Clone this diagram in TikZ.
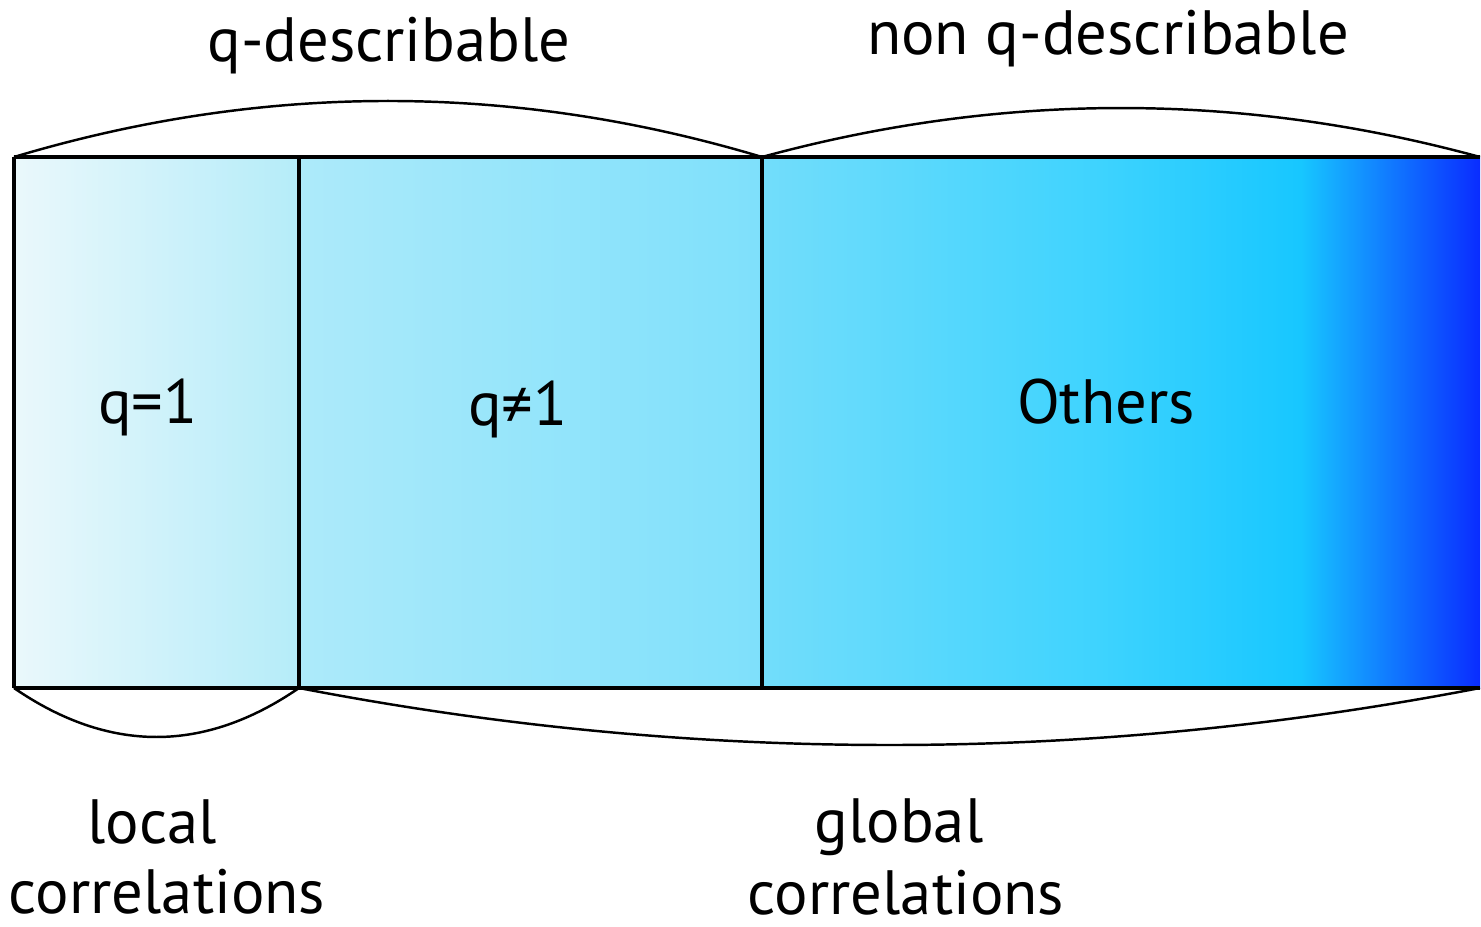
\documentclass[tikz,border=0pt]{standalone}
\usepackage{fontspec}
\setmainfont{PT Sans}
\usetikzlibrary{calc}
\definecolor{cA0}{HTML}{EAF8FB}
\definecolor{cA1}{HTML}{B5ECF9}
\definecolor{cB0}{HTML}{ADEAFA}
\definecolor{cB1}{HTML}{7EE0FB}
\definecolor{cR0}{HTML}{72DDFB}
\definecolor{cR1}{HTML}{3ED3FE}
\definecolor{cR2}{HTML}{17C7FF}
\definecolor{cR3}{HTML}{0A2CFF}
\pgfdeclarehorizontalshading{othersshade}{100bp}{color(0bp)=(cR0); color(25bp)=(cR0); color(48.5bp)=(cR1); color(62.5bp)=(cR2); color(75bp)=(cR3); color(100bp)=(cR3)}
\tikzset{
  lbl/.style={font=\fontsize{17.8}{21}\selectfont, inner sep=0pt, anchor=base, text depth=0pt},
  frame/.style={line width=1.1pt, line join=miter},
  brace/.style={line width=0.7pt},
}
\begin{document}
\begin{tikzpicture}[x=0.01cm,y=-0.01cm]
\useasboundingbox (0,0) rectangle (1481,927);
% corners
\coordinate (TL) at (14,157);
\coordinate (T1) at (299,157);
\coordinate (T2) at (762,157);
\coordinate (TR) at (1480,157);
\coordinate (BL) at (14,688);
\coordinate (B1) at (299,688);
\coordinate (B2) at (762,688);
\coordinate (BR) at (1480,688);
% panels
\shade[left color=cA0, right color=cA1] (TL) rectangle (B1);
\shade[left color=cB0, right color=cB1] (T1) rectangle (B2);
\shade[shading=othersshade] (T2) rectangle (BR);
% frame
\draw[frame] (TL) -- (TR) (BL) -- (BR) (TL) -- (BL) (T1) -- (B1) (T2) -- (B2);
% braces
\draw[brace] (TL) .. controls ($(TL)!1/3!(T2)+(0,-74.7)$) and ($(TL)!2/3!(T2)+(0,-74.7)$) .. (T2);
\draw[brace] (T2) .. controls ($(T2)!1/3!(TR)+(0,-65.3)$) and ($(T2)!2/3!(TR)+(0,-65.3)$) .. (TR);
\draw[brace] (BL) .. controls ($(BL)!1/3!(B1)+(0,65.3)$) and ($(BL)!2/3!(B1)+(0,65.3)$) .. (B1);
\draw[brace] (B1) .. controls ($(B1)!1/3!(BR)+(0,76)$) and ($(B1)!2/3!(BR)+(0,76)$) .. (BR);
% labels
\node[lbl] (qd) at (389,61) {q-describable};
\node[lbl] (nqd) at (1108,54) {non q-describable};
\node[lbl] (q1) at (148,423) {q=1};
\node[lbl] (qn1) at (518,425) {q≠1};
\node[lbl] (oth) at (1106,423) {Others};
\node[lbl] (loc) at (152,843) {local};
\node[lbl] (locc) at (167,913) {correlations};
\node[lbl] (glo) at (899,842) {global};
\node[lbl] (gloc) at (906,914) {correlations};
\end{tikzpicture}
\end{document}
